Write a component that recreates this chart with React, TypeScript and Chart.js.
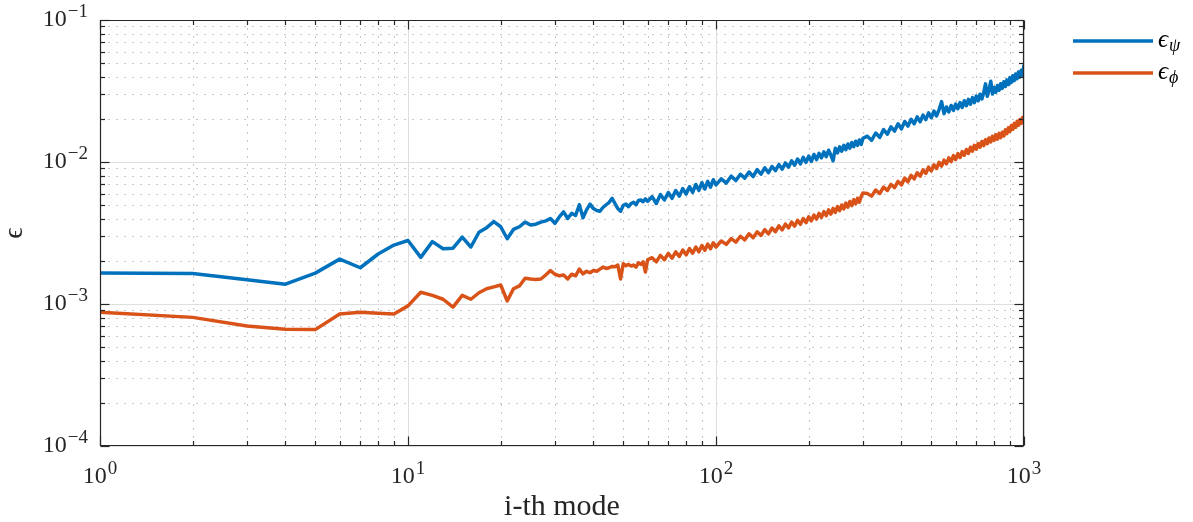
import React, { useEffect, useRef } from 'react';
import { Chart, registerables } from 'chart.js';

Chart.register(...registerables);

// ---------- data ----------
const modes: number[] = [
  1, 2, 3, 4, 5, 6, 7, 8, 9, 10,
  11, 12, 13, 14, 15, 16, 17, 18, 19, 20,
  21, 22, 23, 24, 25, 26, 27, 28, 29, 30,
  31, 32, 33, 34, 35, 36, 37, 38, 39, 40,
  41, 42, 43, 44, 45, 46, 47, 48, 49, 50,
  51, 52, 53, 54, 55, 56, 57, 58, 59, 60,
  62, 64, 66, 68, 70, 72, 74, 76, 78, 80,
  82, 84, 86, 88, 90, 92, 94, 96, 98, 100,
  104, 108, 112, 116, 120, 124, 128, 132, 136, 140,
  144, 148, 152, 156, 160, 164, 168, 172, 176, 180,
  184, 188, 192, 196, 200, 204, 208, 212, 216, 220,
  224, 228, 232, 236, 240, 244, 248, 252, 256, 260,
  264, 268, 272, 276, 280, 284, 288, 292, 296, 300,
  310, 320, 330, 340, 350, 360, 370, 380, 390, 400,
  410, 420, 430, 440, 450, 460, 470, 480, 490, 500,
  510, 520, 530, 540, 550, 560, 570, 580, 590, 600,
  610, 620, 630, 640, 650, 660, 670, 680, 690, 700,
  710, 720, 730, 740, 750, 760, 770, 780, 790, 800,
  810, 820, 830, 840, 850, 860, 870, 880, 890, 900,
  910, 920, 930, 940, 950, 960, 970, 980, 990, 1000,
];

const epsPsi: number[] = [
  1.65e-3, 1.64e-3, 1.48e-3, 1.38e-3, 1.65e-3, 2.07e-3, 1.80e-3, 2.25e-3, 2.60e-3, 2.80e-3,
  2.13e-3, 2.75e-3, 2.45e-3, 2.47e-3, 2.96e-3, 2.52e-3, 3.20e-3, 3.45e-3, 3.80e-3, 3.50e-3,
  2.88e-3, 3.35e-3, 3.50e-3, 3.77e-3, 3.60e-3, 3.65e-3, 3.77e-3, 3.85e-3, 4.00e-3, 3.70e-3,
  4.10e-3, 4.45e-3, 4.00e-3, 4.35e-3, 4.20e-3, 5.00e-3, 4.05e-3, 4.60e-3, 5.05e-3, 4.70e-3,
  4.55e-3, 4.50e-3, 4.80e-3, 5.00e-3, 5.20e-3, 5.55e-3, 5.10e-3, 4.70e-3, 4.50e-3, 4.95e-3,
  5.05e-3, 4.85e-3, 5.10e-3, 5.20e-3, 5.00e-3, 5.35e-3, 5.40e-3, 5.25e-3, 5.50e-3, 5.30e-3,
  5.70e-3, 5.10e-3, 5.90e-3, 5.40e-3, 6.10e-3, 5.55e-3, 6.30e-3, 5.75e-3, 6.50e-3, 5.95e-3,
  6.70e-3, 6.10e-3, 6.95e-3, 6.30e-3, 7.15e-3, 6.45e-3, 7.30e-3, 6.65e-3, 7.50e-3, 6.90e-3,
  7.60e-3, 7.10e-3, 7.95e-3, 7.40e-3, 8.20e-3, 7.70e-3, 8.50e-3, 7.90e-3, 8.85e-3, 8.20e-3,
  9.10e-3, 8.40e-3, 9.30e-3, 8.70e-3, 9.60e-3, 8.90e-3, 9.85e-3, 9.20e-3, 1.02e-2, 9.50e-3,
  1.05e-2, 9.70e-3, 1.08e-2, 9.95e-3, 1.10e-2, 1.01e-2, 1.13e-2, 1.04e-2, 1.15e-2, 1.07e-2,
  1.18e-2, 1.09e-2, 1.21e-2, 1.12e-2, 1.02e-2, 1.25e-2, 1.16e-2, 1.28e-2, 1.19e-2, 1.31e-2,
  1.22e-2, 1.34e-2, 1.25e-2, 1.37e-2, 1.28e-2, 1.40e-2, 1.31e-2, 1.43e-2, 1.33e-2, 1.47e-2,
  1.52e-2, 1.42e-2, 1.60e-2, 1.49e-2, 1.69e-2, 1.57e-2, 1.77e-2, 1.65e-2, 1.86e-2, 1.71e-2,
  1.93e-2, 1.79e-2, 2.00e-2, 1.86e-2, 2.08e-2, 1.92e-2, 2.14e-2, 1.99e-2, 2.22e-2, 2.05e-2,
  2.28e-2, 2.11e-2, 2.34e-2, 2.66e-2, 2.19e-2, 2.44e-2, 2.25e-2, 2.50e-2, 2.31e-2, 2.56e-2,
  2.37e-2, 2.62e-2, 2.42e-2, 2.70e-2, 2.49e-2, 2.76e-2, 2.55e-2, 2.84e-2, 2.62e-2, 2.92e-2,
  2.70e-2, 3.00e-2, 2.78e-2, 3.09e-2, 3.55e-2, 2.90e-2, 3.22e-2, 3.70e-2, 3.01e-2, 3.35e-2,
  3.10e-2, 3.46e-2, 3.20e-2, 3.56e-2, 3.30e-2, 3.67e-2, 3.40e-2, 3.79e-2, 3.51e-2, 3.93e-2,
  3.63e-2, 4.05e-2, 3.74e-2, 4.17e-2, 3.86e-2, 4.30e-2, 3.97e-2, 4.43e-2, 4.09e-2, 4.85e-2,
];

const epsPhi: number[] = [
  8.75e-4, 8.05e-4, 7.00e-4, 6.65e-4, 6.60e-4, 8.50e-4, 8.75e-4, 8.60e-4, 8.50e-4, 9.70e-4,
  1.21e-3, 1.15e-3, 1.08e-3, 9.50e-4, 1.15e-3, 1.08e-3, 1.20e-3, 1.28e-3, 1.32e-3, 1.36e-3,
  1.05e-3, 1.28e-3, 1.34e-3, 1.52e-3, 1.50e-3, 1.49e-3, 1.50e-3, 1.60e-3, 1.72e-3, 1.62e-3,
  1.58e-3, 1.60e-3, 1.50e-3, 1.62e-3, 1.58e-3, 1.76e-3, 1.63e-3, 1.70e-3, 1.66e-3, 1.72e-3,
  1.70e-3, 1.76e-3, 1.82e-3, 1.78e-3, 1.80e-3, 1.84e-3, 1.83e-3, 1.88e-3, 1.50e-3, 1.92e-3,
  1.86e-3, 1.90e-3, 1.85e-3, 1.88e-3, 1.82e-3, 1.95e-3, 1.90e-3, 1.98e-3, 1.68e-3, 2.05e-3,
  2.12e-3, 1.98e-3, 2.20e-3, 2.05e-3, 2.27e-3, 2.10e-3, 2.33e-3, 2.16e-3, 2.40e-3, 2.22e-3,
  2.46e-3, 2.28e-3, 2.52e-3, 2.33e-3, 2.58e-3, 2.39e-3, 2.64e-3, 2.45e-3, 2.70e-3, 2.52e-3,
  2.78e-3, 2.63e-3, 2.89e-3, 2.73e-3, 3.00e-3, 2.83e-3, 3.12e-3, 2.93e-3, 3.22e-3, 3.04e-3,
  3.34e-3, 3.12e-3, 3.43e-3, 3.23e-3, 3.55e-3, 3.32e-3, 3.66e-3, 3.43e-3, 3.77e-3, 3.53e-3,
  3.89e-3, 3.64e-3, 4.00e-3, 3.74e-3, 4.11e-3, 3.85e-3, 4.23e-3, 3.96e-3, 4.35e-3, 4.07e-3,
  4.47e-3, 4.19e-3, 4.60e-3, 4.30e-3, 4.72e-3, 4.42e-3, 4.85e-3, 4.54e-3, 4.98e-3, 4.67e-3,
  5.13e-3, 4.80e-3, 5.27e-3, 4.93e-3, 5.42e-3, 5.07e-3, 5.56e-3, 5.21e-3, 5.72e-3, 6.05e-3,
  6.00e-3, 5.75e-3, 6.35e-3, 6.00e-3, 6.65e-3, 6.30e-3, 6.95e-3, 6.60e-3, 7.30e-3, 6.90e-3,
  7.70e-3, 7.25e-3, 8.05e-3, 7.60e-3, 8.40e-3, 7.95e-3, 8.80e-3, 8.30e-3, 9.20e-3, 8.65e-3,
  9.55e-3, 9.00e-3, 9.95e-3, 9.35e-3, 1.03e-2, 9.70e-3, 1.07e-2, 1.005e-2, 1.11e-2, 1.04e-2,
  1.145e-2, 1.075e-2, 1.185e-2, 1.115e-2, 1.225e-2, 1.15e-2, 1.27e-2, 1.19e-2, 1.31e-2, 1.23e-2,
  1.35e-2, 1.27e-2, 1.395e-2, 1.305e-2, 1.435e-2, 1.345e-2, 1.475e-2, 1.385e-2, 1.52e-2, 1.42e-2,
  1.555e-2, 1.45e-2, 1.59e-2, 1.485e-2, 1.62e-2, 1.525e-2, 1.685e-2, 1.585e-2, 1.745e-2, 1.64e-2,
  1.81e-2, 1.70e-2, 1.87e-2, 1.755e-2, 1.935e-2, 1.815e-2, 1.995e-2, 1.87e-2, 2.06e-2, 1.99e-2,
];

const xDecades: number[] = [1, 10, 100, 1000];
const xExponents: string[] = ['0', '1', '2', '3'];
const yDecades: number[] = [1e-4, 1e-3, 1e-2, 1e-1];
const yExponents: string[] = ['\u22124', '\u22123', '\u22122', '\u22121'];
const seriesSubscripts: string[] = ['\u03C8', '\u03D5'];
const seriesColors: string[] = ['#0072BD', '#D95319'];
const xTitle = 'i-th mode';
const yTitle = '\u03F5';

// ---------- drawing helpers ----------
const SERIF = '"Liberation Serif", "Times New Roman", serif';
const AXIS_COLOR = '#262626';

function minorValues(decades: number[]): number[] {
  const out: number[] = [];
  for (let i = 0; i < decades.length - 1; i++) {
    for (let m = 2; m <= 9; m++) out.push(decades[i] * m);
  }
  return out;
}

function drawPow(ctx: CanvasRenderingContext2D, exp: string, x: number, baseline: number, align: 'right' | 'center') {
  ctx.font = `24px ${SERIF}`;
  const wb = ctx.measureText('10').width;
  ctx.font = `19px ${SERIF}`;
  const we = ctx.measureText(exp).width;
  const total = wb + 1 + we;
  const left = align === 'right' ? x - total : x - total / 2;
  ctx.textAlign = 'left';
  ctx.textBaseline = 'alphabetic';
  ctx.font = `24px ${SERIF}`;
  ctx.fillText('10', left, baseline);
  ctx.font = `19px ${SERIF}`;
  ctx.fillText(exp, left + wb + 1, baseline - 9);
}

const framePlugin = {
  id: 'matlabFrame',
  beforeDatasetsDraw(chart: any) {
    const { ctx, chartArea: a, scales } = chart;
    const xs = scales.x;
    const ys = scales.y;
    ctx.save();
    ctx.lineWidth = 1;
    // minor grid (dotted)
    ctx.strokeStyle = '#c8c8c8';
    ctx.setLineDash([2, 6]);
    for (const v of minorValues(xDecades)) {
      const p = Math.round(xs.getPixelForValue(v)) + 0.5;
      ctx.beginPath(); ctx.moveTo(p, a.top); ctx.lineTo(p, a.bottom); ctx.stroke();
    }
    for (const v of minorValues(yDecades)) {
      const p = Math.round(ys.getPixelForValue(v)) + 0.5;
      ctx.beginPath(); ctx.moveTo(a.left, p); ctx.lineTo(a.right, p); ctx.stroke();
    }
    // major grid (solid)
    ctx.setLineDash([]);
    ctx.strokeStyle = '#dedede';
    for (const v of xDecades) {
      const p = Math.round(xs.getPixelForValue(v)) + 0.5;
      ctx.beginPath(); ctx.moveTo(p, a.top); ctx.lineTo(p, a.bottom); ctx.stroke();
    }
    for (const v of yDecades) {
      const p = Math.round(ys.getPixelForValue(v)) + 0.5;
      ctx.beginPath(); ctx.moveTo(a.left, p); ctx.lineTo(a.right, p); ctx.stroke();
    }
    ctx.restore();
  },
  afterDatasetsDraw(chart: any) {
    const { ctx, chartArea: a, scales } = chart;
    const xs = scales.x;
    const ys = scales.y;
    const L = Math.round(a.left) + 0.5;
    const R = Math.round(a.right) - 0.5;
    const T = Math.round(a.top) + 0.5;
    const B = Math.round(a.bottom) - 0.5;
    ctx.save();
    ctx.strokeStyle = AXIS_COLOR;
    ctx.fillStyle = AXIS_COLOR;
    ctx.lineWidth = 1.2;
    // box
    ctx.beginPath();
    ctx.rect(L, T, R - L, B - T);
    ctx.stroke();
    // ticks
    const tick = (len: number, vals: number[], axis: 'x' | 'y') => {
      for (const v of vals) {
        if (axis === 'x') {
          const p = Math.round(xs.getPixelForValue(v)) + 0.5;
          ctx.beginPath(); ctx.moveTo(p, B); ctx.lineTo(p, B - len); ctx.stroke();
          ctx.beginPath(); ctx.moveTo(p, T); ctx.lineTo(p, T + len); ctx.stroke();
        } else {
          const p = Math.round(ys.getPixelForValue(v)) + 0.5;
          ctx.beginPath(); ctx.moveTo(L, p); ctx.lineTo(L + len, p); ctx.stroke();
          ctx.beginPath(); ctx.moveTo(R, p); ctx.lineTo(R - len, p); ctx.stroke();
        }
      }
    };
    tick(9, xDecades, 'x');
    tick(4.5, minorValues(xDecades), 'x');
    tick(9, yDecades, 'y');
    tick(4.5, minorValues(yDecades), 'y');

    // tick labels
    xDecades.forEach((v, i) => {
      drawPow(ctx, xExponents[i], xs.getPixelForValue(v), a.bottom + 37, 'center');
    });
    yDecades.forEach((v, i) => {
      drawPow(ctx, yExponents[i], 88, ys.getPixelForValue(v) + 6, 'right');
    });

    // axis titles
    ctx.font = `30px ${SERIF}`;
    ctx.textAlign = 'center';
    ctx.textBaseline = 'alphabetic';
    ctx.fillText(xTitle, (a.left + a.right) / 2, 515);
    ctx.save();
    ctx.translate(22, 233);
    ctx.rotate(-Math.PI / 2);
    ctx.textBaseline = 'alphabetic';
    ctx.font = `28px ${SERIF}`;
    ctx.fillText(yTitle, 0, 0);
    ctx.restore();

    // legend
    seriesSubscripts.forEach((sub, i) => {
      const yl = 41 + i * 32;
      ctx.strokeStyle = seriesColors[i];
      ctx.lineWidth = 3.5;
      ctx.beginPath(); ctx.moveTo(1073, yl); ctx.lineTo(1153, yl); ctx.stroke();
      ctx.fillStyle = '#000000';
      ctx.textAlign = 'left';
      ctx.font = `italic 25px ${SERIF}`;
      ctx.fillText('\u03F5', 1158, yl + 6);
      const w = ctx.measureText('\u03F5').width;
      ctx.font = `italic 18px ${SERIF}`;
      ctx.fillText(sub, 1158 + w + 1, yl + 10);
    });
    ctx.restore();
  },
};

export default function App() {
  const canvasRef = useRef<HTMLCanvasElement | null>(null);

  useEffect(() => {
    const canvas = canvasRef.current;
    if (!canvas) return;
    const chart = new Chart(canvas, {
      type: 'line',
      data: {
        datasets: [
          {
            label: '\u03F5\u03C8',
            data: modes.map((m, i) => ({ x: m, y: epsPsi[i] })),
            borderColor: seriesColors[0],
            backgroundColor: seriesColors[0],
            borderWidth: 3.5,
            pointRadius: 0,
            borderJoinStyle: 'round',
            tension: 0,
          },
          {
            label: '\u03F5\u03D5',
            data: modes.map((m, i) => ({ x: m, y: epsPhi[i] })),
            borderColor: seriesColors[1],
            backgroundColor: seriesColors[1],
            borderWidth: 3.5,
            pointRadius: 0,
            borderJoinStyle: 'round',
            tension: 0,
          },
        ],
      },
      options: {
        animation: false,
        responsive: false,
        maintainAspectRatio: false,
        layout: { padding: { left: 100, top: 20, right: 169, bottom: 76 } },
        plugins: { legend: { display: false }, tooltip: { enabled: false } },
        scales: {
          x: {
            type: 'logarithmic',
            min: 1,
            max: 1000,
            grid: { display: false, drawTicks: false },
            border: { display: false },
            ticks: { display: false },
          },
          y: {
            type: 'logarithmic',
            min: 1e-4,
            max: 1e-1,
            grid: { display: false, drawTicks: false },
            border: { display: false },
            ticks: { display: false },
          },
        },
      },
      plugins: [framePlugin],
    } as any);
    return () => chart.destroy();
  }, []);

  return (
    <div style={{ position: 'fixed', left: 0, top: 0, width: 1193, height: 522, background: '#ffffff' }}>
      <canvas ref={canvasRef} width={1193} height={522} style={{ display: 'block' }} />
    </div>
  );
}
